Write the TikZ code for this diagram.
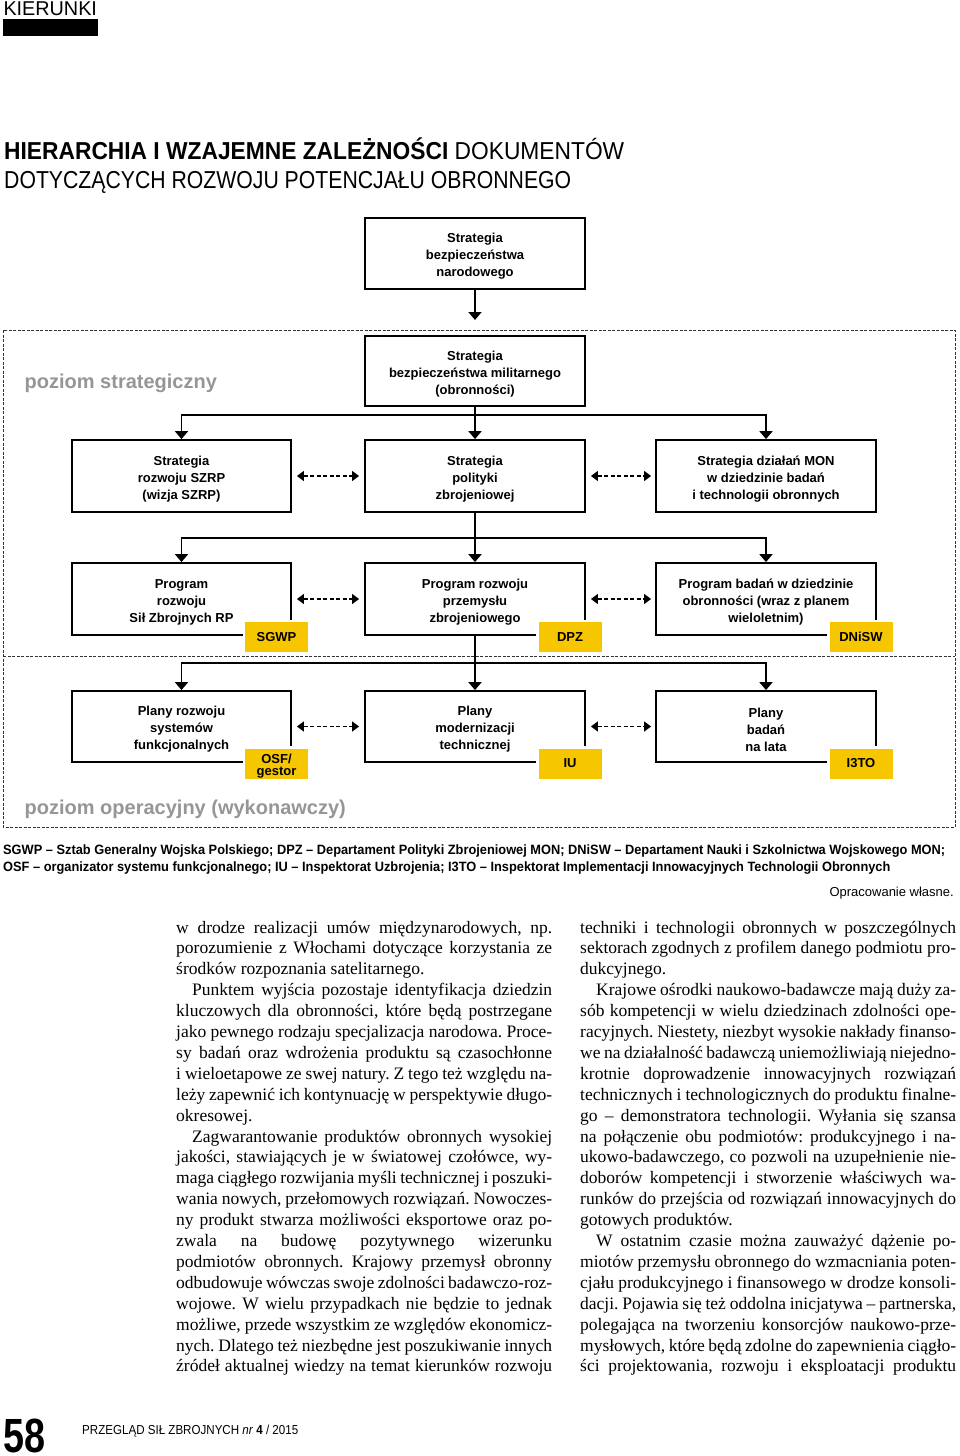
\documentclass[tikz,border=0pt]{standalone}
\usepackage{fontspec}
\usepackage{graphicx}
\setmainfont{Liberation Serif}
\setsansfont{Liberation Sans}
\newfontfamily\dsans{Liberation Sans}
\usetikzlibrary{arrows.meta}
\definecolor{labyellow}{RGB}{246,198,0}
\definecolor{lvlgrey}{RGB}{150,150,150}
\newlength\colw \setlength\colw{376pt}
\newcommand\bjl[1]{\hbox to\colw{#1}}
\newcommand\blast[1]{\hbox to\colw{#1\hfil}}
\newcommand\bind[1]{\hbox to\colw{\hskip16pt #1}}
\newcommand\bodysetup{\baselineskip=20.9pt\frenchspacing\spaceskip=.25em plus .6em minus .15em\xspaceskip=\spaceskip}
\tikzset{
 docbox/.style={draw, line width=1.8pt, minimum width=220pt, minimum height=71pt, inner sep=0pt},
 boxtext/.style={inner sep=0pt, align=center, font=\dsans\bfseries\fontsize{13}{17}\selectfont},
 lab/.style={fill=labyellow, draw=white, line width=2.5pt, minimum width=65.5pt, minimum height=32.5pt, inner sep=0pt, align=center, font=\dsans\bfseries\fontsize{13}{11.5}\selectfont},
 labtext/.style={inner sep=0pt, align=center, font=\dsans\bfseries\fontsize{13}{11.5}\selectfont},
 tree/.style={line width=1.8pt},
 arr/.style={line width=1.8pt, -{Triangle[width=13pt,length=8pt]}},
 darr/.style={line width=1.3pt, dash pattern=on 4pt off 2.5pt, {Triangle[width=10pt,length=7pt]}-{Triangle[width=10pt,length=7pt]}},
 frame/.style={line width=1pt, black!80, dash pattern=on 3pt off 1.5pt},
 lvl/.style={anchor=base west, inner sep=0pt, text=lvlgrey, font=\dsans\bfseries\fontsize{20}{24}\selectfont},
 plain/.style={inner sep=0pt},
}
% box with its text set 3pt lower than the box centre
\newcommand\docnode[4][]{\node[docbox,#1] (#2) at (#3) {};\node[boxtext] (#2-t) at ([yshift=-3pt]#2.center) {#4};}
\begin{document}
\begin{tikzpicture}[x=1pt,y=-1pt]
\useasboundingbox[fill=white] (0,0) rectangle (960,1456);

% header
\node[plain, anchor=base west, font=\dsans\fontsize{20}{24}\selectfont] (kier) at (3.3,16) {\resizebox{93.5pt}{\height}{KIERUNKI}};
\fill (3,19) rectangle (98,35.5);

% title
\node[plain, anchor=base west, font=\dsans\fontsize{24.5}{29}\selectfont] (t1) at (4,159.3) {\resizebox{620pt}{\height}{\textbf{HIERARCHIA I WZAJEMNE ZALEŻNOŚCI} DOKUMENTÓW}};
\node[plain, anchor=base west, font=\dsans\fontsize{24.5}{29}\selectfont] (t2) at (4,188.3) {\resizebox{567pt}{\height}{DOTYCZĄCYCH ROZWOJU POTENCJAŁU OBRONNEGO}};

% frame
\draw[frame] (3,330) rectangle (955,827);
\draw[frame] (3,656) -- (955,656);

% level labels
\node[lvl] (lvlS) at (24.5,388.5) {poziom strategiczny};
\node[lvl] (lvlO) at (24.5,814) {poziom operacyjny (wykonawczy)};

% boxes
\docnode{top}{475,253.5}{Strategia\\bezpieczeństwa\\narodowego}
\docnode[minimum height=70pt]{b2}{475,371}{Strategia\\bezpieczeństwa militarnego\\(obronności)}

\docnode[minimum width=219pt, minimum height=72pt]{r1L}{181.5,476}{Strategia\\rozwoju SZRP\\(wizja SZRP)}
\docnode[minimum height=72pt]{r1M}{475,476}{Strategia\\polityki\\zbrojeniowej}
\docnode[minimum height=72pt]{r1R}{766,476}{Strategia działań MON\\w dziedzinie badań\\i technologii obronnych}

\docnode[minimum width=219pt, minimum height=72pt]{r2L}{181.5,599}{Program\\rozwoju\\Sił Zbrojnych RP}
\docnode[minimum height=72pt]{r2M}{475,599}{Program rozwoju\\przemysłu\\zbrojeniowego}
\docnode[minimum height=72pt]{r2R}{766,599}{Program badań w dziedzinie\\obronności (wraz z planem\\wieloletnim)}

\docnode[minimum width=219pt]{r3L}{181.5,726.5}{Plany rozwoju\\systemów\\funkcjonalnych}
\docnode{r3M}{475,726.5}{Plany\\modernizacji\\technicznej}
\docnode{r3R}{766,726.5}{Plany\\badań\\na lata}

% labels
\node[lab] (sgwp) at (276.5,637) {SGWP};
\node[lab] (dpz) at (570,637) {DPZ};
\node[lab] (dnisw) at (861,637) {DNiSW};
\node[lab] (osf) at (276.5,763.5) {};
\node[labtext] (osf-t) at ([yshift=-2.5pt]osf.center) {OSF/\\gestor};
\node[lab] (iu) at (570,763.5) {IU};
\node[lab] (i3to) at (861,763.5) {I3TO};

% connectors
\coordinate (tipA) at (475,320);
\draw[arr] (top.south) -- (tipA);

\coordinate (j1) at (475,415);
\draw[tree] (b2.south) -- (j1);
\draw[arr] (j1) -- (r1M.north);
\draw[arr] (j1) -| (r1L.north);
\draw[arr] (j1) -| (r1R.north);

\coordinate (j2) at (475,538);
\draw[tree] (r1M.south) -- (j2);
\draw[arr] (j2) -- (r2M.north);
\draw[arr] (j2) -| (r2L.north);
\draw[arr] (j2) -| (r2R.north);

\coordinate (j3) at (475,663);
\draw[tree] (r2M.south) -- (j3);
\draw[arr] (j3) -- (r3M.north);
\draw[arr] (j3) -| (r3L.north);
\draw[arr] (j3) -| (r3R.north);

\draw[darr] ([xshift=5pt]r1L.east) -- ([xshift=-5pt]r1M.west);
\draw[darr] ([xshift=5pt]r1M.east) -- ([xshift=-4pt]r1R.west);
\draw[darr] ([xshift=5pt]r2L.east) -- ([xshift=-5pt]r2M.west);
\draw[darr] ([xshift=5pt]r2M.east) -- ([xshift=-4pt]r2R.west);
\draw[darr] ([xshift=5pt]r3L.east) -- ([xshift=-5pt]r3M.west);
\draw[darr] ([xshift=5pt]r3M.east) -- ([xshift=-4pt]r3R.west);

% footnote
\node[plain, anchor=base west, font=\dsans\bfseries\fontsize{13.5}{17}\selectfont] (fn) at (3,854) {\resizebox{942pt}{\height}{\vtop{\baselineskip=17pt\hbox{SGWP – Sztab Generalny Wojska Polskiego; DPZ – Departament Polityki Zbrojeniowej MON; DNiSW – Departament Nauki i Szkolnictwa Wojskowego MON;}\hbox{OSF – organizator systemu funkcjonalnego; IU – Inspektorat Uzbrojenia; I3TO – Inspektorat Implementacji Innowacyjnych Technologii Obronnych}}}};
\node[plain, anchor=base east, font=\dsans\fontsize{13}{16}\selectfont] (src) at (954,896) {Opracowanie własne.};

% body columns
\node[plain, anchor=base west, font=\fontsize{17.5}{20.9}\selectfont] (colL) at (176,933) {\vtop{\bodysetup
\bjl{w drodze realizacji umów międzynarodowych, np.}
\bjl{porozumienie z Włochami dotyczące korzystania ze}
\blast{środków rozpoznania satelitarnego.}
\bind{Punktem wyjścia pozostaje identyfikacja dziedzin}
\bjl{kluczowych dla obronności, które będą postrzegane}
\bjl{jako pewnego rodzaju specjalizacja narodowa. Proce-}
\bjl{sy badań oraz wdrożenia produktu są czasochłonne}
\bjl{i wieloetapowe ze swej natury. Z tego też względu na-}
\bjl{leży zapewnić ich kontynuację w perspektywie długo-}
\blast{okresowej.}
\bind{Zagwarantowanie produktów obronnych wysokiej}
\bjl{jakości, stawiających je w światowej czołówce, wy-}
\bjl{maga ciągłego rozwijania myśli technicznej i poszuki-}
\bjl{wania nowych, przełomowych rozwiązań. Nowoczes-}
\bjl{ny produkt stwarza możliwości eksportowe oraz po-}
\bjl{zwala na budowę pozytywnego wizerunku}
\bjl{podmiotów obronnych. Krajowy przemysł obronny}
\bjl{odbudowuje wówczas swoje zdolności badawczo-roz-}
\bjl{wojowe. W wielu przypadkach nie będzie to jednak}
\bjl{możliwe, przede wszystkim ze względów ekonomicz-}
\bjl{nych. Dlatego też niezbędne jest poszukiwanie innych}
\bjl{źródeł aktualnej wiedzy na temat kierunków rozwoju}
}};
\node[plain, anchor=base west, font=\fontsize{17.5}{20.9}\selectfont] (colR) at (580,933) {\vtop{\bodysetup
\bjl{techniki i technologii obronnych w poszczególnych}
\bjl{sektorach zgodnych z profilem danego podmiotu pro-}
\blast{dukcyjnego.}
\bind{Krajowe ośrodki naukowo-badawcze mają duży za-}
\bjl{sób kompetencji w wielu dziedzinach zdolności ope-}
\bjl{racyjnych. Niestety, niezbyt wysokie nakłady finanso-}
\bjl{we na działalność badawczą uniemożliwiają niejedno-}
\bjl{krotnie doprowadzenie innowacyjnych rozwiązań}
\bjl{technicznych i technologicznych do produktu finalne-}
\bjl{go – demonstratora technologii. Wyłania się szansa}
\bjl{na połączenie obu podmiotów: produkcyjnego i na-}
\bjl{ukowo-badawczego, co pozwoli na uzupełnienie nie-}
\bjl{doborów kompetencji i stworzenie właściwych wa-}
\bjl{runków do przejścia od rozwiązań innowacyjnych do}
\blast{gotowych produktów.}
\bind{W ostatnim czasie można zauważyć dążenie po-}
\bjl{miotów przemysłu obronnego do wzmacniania poten-}
\bjl{cjału produkcyjnego i finansowego w drodze konsoli-}
\bjl{dacji. Pojawia się też oddolna inicjatywa – partnerska,}
\bjl{polegająca na tworzeniu konsorcjów naukowo-prze-}
\bjl{mysłowych, które będą zdolne do zapewnienia ciągło-}
\bjl{ści projektowania, rozwoju i eksploatacji produktu}
}};

% footer
\node[plain, anchor=base west, font=\dsans\bfseries] (pnum) at (3,1452) {\resizebox{42pt}{33.5pt}{58}};
\node[plain, anchor=base west, font=\dsans\fontsize{13}{16}\selectfont] (jour) at (82,1434) {\resizebox{216pt}{\height}{PRZEGLĄD SIŁ ZBROJNYCH \textit{nr} \textbf{4} / 2015}};
\end{tikzpicture}
\end{document}
